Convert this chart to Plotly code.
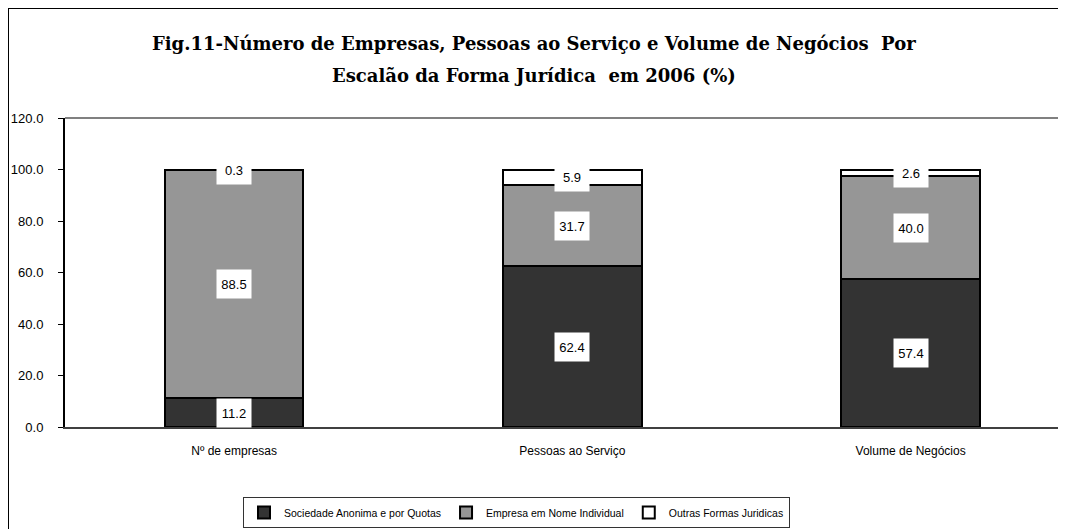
import plotly.graph_objects as go

categories = ["Nº de empresas", "Pessoas ao Serviço", "Volume de Negócios"]
series_names = ["Sociedade Anonima e por Quotas", "Empresa em Nome Individual", "Outras Formas Juridicas"]
sociedade = [11.2, 62.4, 57.4]
empresa = [88.5, 31.7, 40.0]
outras = [0.3, 5.9, 2.6]
colors = ["#333333", "#969696", "#FFFFFF"]
title_lines = ["Fig.11-Número de Empresas, Pessoas ao Serviço e Volume de Negócios  Por",
               "Escalão da Forma Jurídica  em 2006 (%)"]

# figure coordinates (page is offset by 8px body margin)
W, H = 1066, 529
ML, MR, MT, MB = 57, 0, 110, 110
PW, PH = W - ML - MR, H - MT - MB

SANS = "Liberation Sans Narrow, Arial Narrow, Liberation Sans, Arial"
SERIF = "DejaVu Serif, Liberation Serif, serif"

def px_x(px):
    return (px - ML) / PW

def px_y(py):
    return (H - MB - py) / PH

fig = go.Figure()
series = [sociedade, empresa, outras]
for name, vals, col in zip(series_names, series, colors):
    fig.add_trace(go.Bar(
        x=categories, y=vals, name=name, width=0.41,
        marker=dict(color=col, line=dict(color="black", width=2)),
    ))

annotations = []
for i, cat in enumerate(categories):
    base = 0.0
    for vals in series:
        v = vals[i]
        annotations.append(dict(
            x=cat, y=base + v / 2, xref="x", yref="y",
            text=f"{v:.1f}", showarrow=False, bgcolor="white",
            font=dict(family=SANS, size=13, color="black"),
            borderpad=0, width=34, height=28,
        ))
        base += v

# title lines
for line, cy in zip(title_lines, [36, 67]):
    annotations.append(dict(
        x=px_x(526), y=px_y(cy), xref="paper", yref="paper",
        text=f"<b>{line}</b>", showarrow=False, xanchor="center", yanchor="middle",
        font=dict(family=SERIF, size=18, color="black"),
    ))

shapes = [
    dict(type="line", xref="paper", yref="paper", x0=0, x1=1.02, y0=1, y1=1,
         line=dict(color="#808080", width=2)),
    dict(type="line", xref="paper", yref="paper", x0=px_x(0), x1=px_x(0), y0=px_y(0), y1=px_y(560),
         line=dict(color="black", width=2)),
    dict(type="line", xref="paper", yref="paper", x0=px_x(0), x1=px_x(1100), y0=px_y(0), y1=px_y(0),
         line=dict(color="black", width=2)),
]

fig.update_layout(
    width=W, height=H,
    margin=dict(l=ML, r=MR, t=MT, b=MB),
    barmode="stack",
    paper_bgcolor="white", plot_bgcolor="white",
    xaxis=dict(
        range=[-0.5, 2.483], showgrid=False, showline=True, linecolor="#404040", linewidth=2,
        ticks="", ticklabelstandoff=12,
        tickfont=dict(family=SANS, size=12, color="black"),
    ),
    yaxis=dict(
        range=[0, 120], dtick=20, tickformat=".1f", showgrid=False, zeroline=False,
        showline=True, linecolor="black", linewidth=2, ticks="outside", ticklen=5,
        tickcolor="black", ticklabelstandoff=12,
        tickfont=dict(family=SANS, size=13, color="black"),
    ),
    legend=dict(
        orientation="h", x=px_x(235), y=px_y(489), xanchor="left", yanchor="top",
        bordercolor="#333333", borderwidth=1, bgcolor="white",
        font=dict(family=SANS, size=10.5, color="black"),
        traceorder="normal", itemwidth=30,
    ),
    annotations=annotations,
    shapes=shapes,
    showlegend=True,
)

fig.write_html("out.html")
